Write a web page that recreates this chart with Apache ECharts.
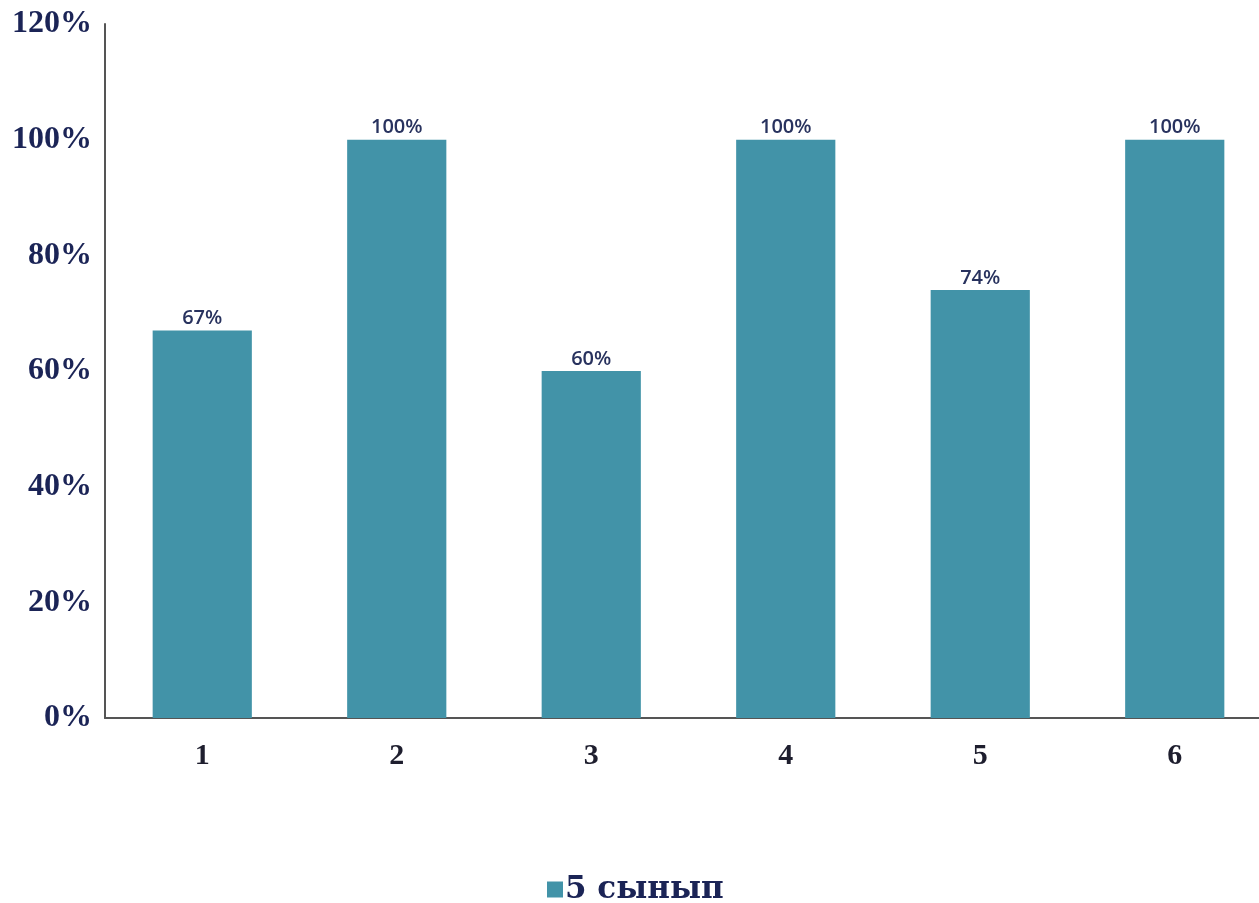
<!DOCTYPE html>
<html><head><meta charset="utf-8">
<script src="https://cdn.jsdelivr.net/npm/echarts@6/dist/echarts.min.js"></script>
<style>html,body{margin:0;padding:0;background:#fff;overflow:hidden}#c{width:1272px;height:903px}</style>
</head><body><div id="c"></div>
<script>
const categories = ['1','2','3','4','5','6'];
const values = [67, 100, 60, 100, 74, 100];
const seriesName = '5 сынып';
const yTicks = [0, 20, 40, 60, 80, 100, 120];

const chart = echarts.init(document.getElementById('c'));
chart.setOption({
  animation: false,
  grid: {left: 105, right: 0, top: 24, bottom: 185, containLabel: false},
  legend: {
    top: 874, left: 547, padding: 0,
    itemWidth: 16, itemHeight: 16, itemGap: 6,
    icon: 'rect',
    textStyle: {fontFamily: 'DejaVu Serif', fontWeight: 'bold', fontSize: 31, color: '#1b2456', padding: [0,0,0,-3]},
    data: [seriesName]
  },
  xAxis: {
    type: 'category', data: categories,
    axisLine: {lineStyle: {color: '#555', width: 2}},
    axisTick: {show: false},
    axisLabel: {margin: 23, fontFamily: 'Liberation Serif', fontWeight: 'bold', fontSize: 30, color: '#1e1e2e'}
  },
  yAxis: {
    type: 'value', min: 0, max: 120, interval: 20,
    axisLine: {show: true, lineStyle: {color: '#555', width: 2}},
    axisTick: {show: false},
    splitLine: {show: false},
    axisLabel: {margin: 13, fontFamily: 'Liberation Serif', fontWeight: 'bold', fontSize: 32, color: '#1b2456',
      formatter: v => yTicks.includes(v) ? v + '%' : ''}
  },
  series: [{
    name: seriesName, type: 'bar', data: values, barWidth: '51%',
    itemStyle: {color: '#4293a8'},
    label: {show: true, position: 'top', distance: 2, formatter: p => p.value + '%',
      fontFamily: 'Open Sans', fontWeight: 600, fontSize: 20, color: '#28325e'}
  }]
});
</script></body></html>
